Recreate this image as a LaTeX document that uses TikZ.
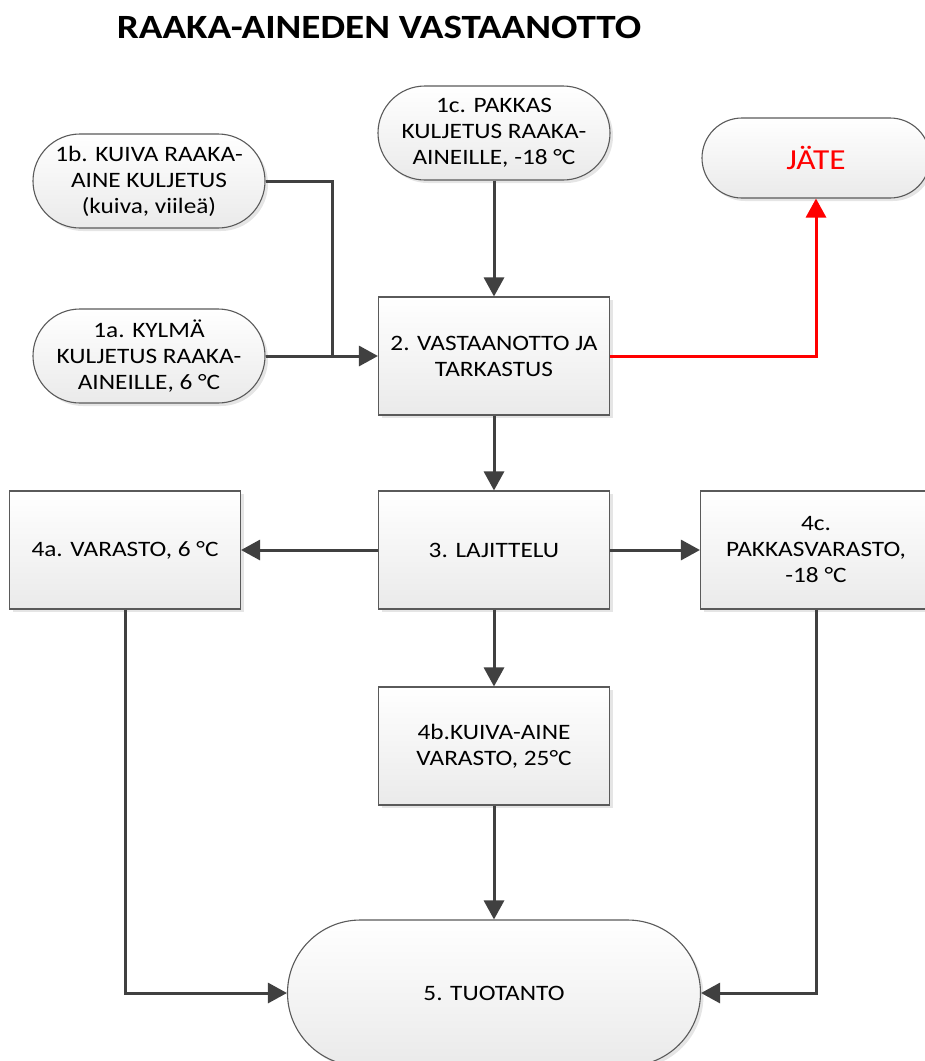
\documentclass[tikz,border=0pt]{standalone}
\usepackage{fontspec}
\setmainfont{Carlito}[FakeStretch=1.15]
\usetikzlibrary{shapes.misc,arrows.meta,shadows}
\definecolor{edge}{HTML}{404040}
\definecolor{rim}{HTML}{5A5A5A}
\definecolor{fillbot}{HTML}{EAEAEA}
\definecolor{alarm}{HTML}{FF0000}
\begin{document}
\begin{tikzpicture}[x=1pt,y=-1pt,
  shape base/.style={draw=rim, line width=1.1pt, top color=white, bottom color=fillbot,
    align=center, font=\fontsize{22}{26}\selectfont, text=black, inner sep=0pt,
    drop shadow={shadow xshift=3pt, shadow yshift=-3pt, fill=black, opacity=0.10}},
  stepbox/.style={shape base, rectangle, minimum width=231pt, minimum height=118pt},
  term/.style={shape base, rounded rectangle, minimum width=232pt, minimum height=94pt},
  flow/.style={draw=edge, line width=3pt, -{Triangle[length=19pt,width=20pt]}},
  plain/.style={draw=edge, line width=3pt},
  reject/.style={draw=alarm, line width=3pt, -{Triangle[length=19pt,width=20pt]}}]
\useasboundingbox (0,0) rectangle (925,1061);
\clip (0,0) rectangle (925,1061);
\fill[white] (0,0) rectangle (925,1061);

% title
\node (title) at (379,27) {\fontsize{34}{40}\selectfont\bfseries RAAKA-AINEDEN VASTAANOTTO};

% incoming deliveries
\node[term] (t1b) at (149,181) {1b. KUIVA RAAKA-\\AINE KULJETUS\\(kuiva, viileä)};
\node[term] (t1a) at (149,356) {1a. KYLMÄ\\KULJETUS RAAKA-\\AINEILLE, 6 °C};
\node[term] (t1c) at (494,133) {1c. PAKKAS\\KULJETUS RAAKA-\\AINEILLE, -18 °C};
\node[term, minimum width=228pt, minimum height=80pt, text=alarm,
      font=\fontsize{29}{34}\selectfont] (jate) at (816,158) {JÄTE};

% process steps
\node[stepbox] (s2) at (494,356) {2. VASTAANOTTO JA\\TARKASTUS};
\node[stepbox] (s3) at (494,550) {3. LAJITTELU};
\node[stepbox] (s4a) at (125,550) {4a. VARASTO, 6 °C};
\node[stepbox] (s4c) at (816,550) {4c.\\PAKKASVARASTO,\\-18 °C};
\node[stepbox] (s4b) at (494,746) {4b.KUIVA-AINE\\VARASTO, 25°C};
\node[term, minimum width=413pt, minimum height=146pt] (t5) at (494,993) {5. TUOTANTO};

% junction where the dry delivery joins the cold one
\coordinate (join) at (332,356);

% connectors
\draw[plain] (t1b.east) -| (join);
\draw[flow] (t1a.east) -- (s2.west);
\draw[flow] (t1c.south) -- (s2.north);
\draw[reject] (s2.east) -| (jate.south);
\draw[flow] (s2.south) -- (s3.north);
\draw[flow] (s3.west) -- (s4a.east);
\draw[flow] (s3.east) -- (s4c.west);
\draw[flow] (s3.south) -- (s4b.north);
\draw[flow] (s4b.south) -- (t5.north);
\draw[flow] (s4a.south) |- (t5.west);
\draw[flow] (s4c.south) |- (t5.east);
\end{tikzpicture}
\end{document}
